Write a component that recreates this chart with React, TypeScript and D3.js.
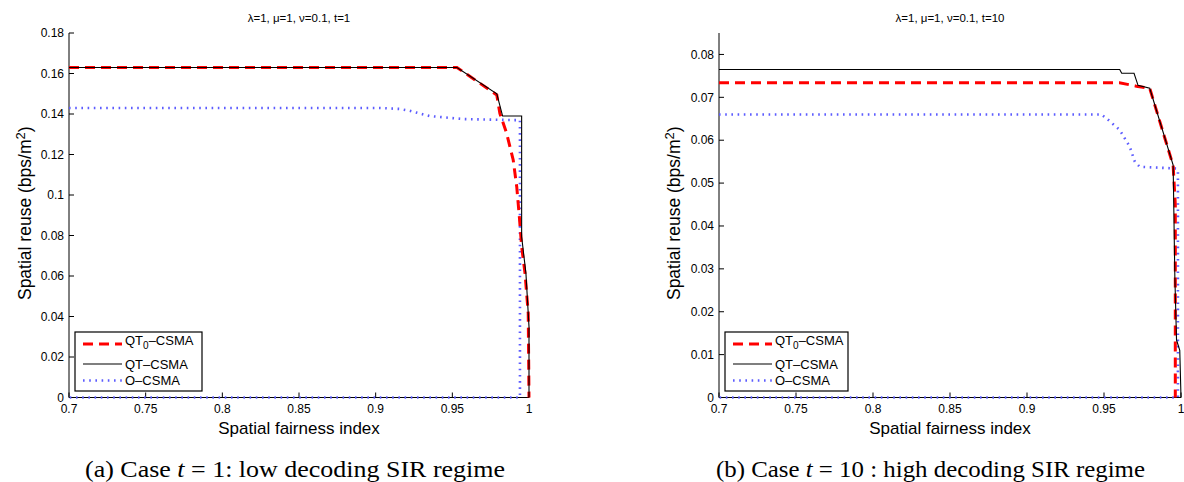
import React from "react";
import * as d3 from "d3";

// ---- data: panel (a) t = 1 ----
const fairQT0_t1 = [0.7, 0.953, 0.979, 0.981, 0.9854, 0.9897, 0.992, 0.9937, 0.9952, 0.9974, 0.9995, 1.0];
const reuseQT0_t1 = [0.163, 0.163, 0.1494, 0.1403, 0.1305, 0.1173, 0.1041, 0.0893, 0.0745, 0.0613, 0.0416, 0];
const fairQT_t1 = [0.7, 0.953, 0.979, 0.9828, 0.9952, 0.9952, 0.998, 1.0, 1.0];
const reuseQT_t1 = [0.163, 0.163, 0.15, 0.139, 0.139, 0.0794, 0.0613, 0.035, 0];
const fairO_t1 = [0.7, 0.9026, 0.9157, 0.9222, 0.935, 0.957, 0.9897, 0.9941, 0.9941, 0.7];
const reuseO_t1 = [0.143, 0.143, 0.1425, 0.1416, 0.139, 0.1375, 0.137, 0.137, 0, 0];

// ---- data: panel (b) t = 10 ----
const fairQT0_t10 = [0.7, 0.96, 0.971, 0.9797, 0.9949, 0.9963, 0.9963];
const reuseQT0_t10 = [0.0734, 0.0734, 0.0726, 0.0721, 0.0541, 0.045, 0];
const fairQT_t10 = [0.7, 0.9602, 0.9615, 0.9695, 0.9721, 0.9797, 0.9949, 0.996, 0.9971, 0.9992, 1.0];
const reuseQT_t10 = [0.0765, 0.0765, 0.0756, 0.0756, 0.0728, 0.0721, 0.0542, 0.0282, 0.0134, 0.011, 0];
const fairO_t10 = [0.7, 0.9483, 0.9516, 0.9602, 0.9667, 0.97, 0.9732, 0.997, 0.998, 0.998, 0.7];
const reuseO_t10 = [0.066, 0.066, 0.0651, 0.0624, 0.0585, 0.055, 0.0538, 0.0534, 0.053, 0, 0];

// ---- ticks / labels ----
const xTicks = [0.7, 0.75, 0.8, 0.85, 0.9, 0.95, 1];
const yTicks_t1 = [0, 0.02, 0.04, 0.06, 0.08, 0.1, 0.12, 0.14, 0.16, 0.18];
const yTicks_t10 = [0, 0.01, 0.02, 0.03, 0.04, 0.05, 0.06, 0.07, 0.08];
const titles = ["λ=1, μ=1, ν=0.1, t=1", "λ=1, μ=1, ν=0.1, t=10"];
const xLabel = "Spatial fairness index";

const SANS = "'Liberation Sans', Arial, Helvetica, sans-serif";
const SERIF = "'Liberation Serif', 'Times New Roman', serif";
const BLUE = "#5c5cff";

const zip = (xs: number[], ys: number[]) => xs.map((x, i) => [x, ys[i]] as [number, number]);
const fmt = (v: number) => (v === 0 ? "0" : String(+v.toFixed(3)));

type PanelProps = {
  x0: number; x1: number; yTop: number; yBot: number; yMax: number;
  yTicks: number[]; title: string; ylabX: number;
  qt0: [number, number][]; qt: [number, number][]; o: [number, number][];
  legend: { x: number; y: number; w: number; h: number };
};

function Panel(p: PanelProps) {
  const x = d3.scaleLinear().domain([0.7, 1]).range([p.x0, p.x1]);
  const y = d3.scaleLinear().domain([0, p.yMax]).range([p.yBot, p.yTop]);
  const line = d3.line<[number, number]>().x((d) => x(d[0])).y((d) => y(d[1]));
  const tl = 5;
  const L = p.legend;
  const lx0 = L.x + 8, lx1 = L.x + 47, tx = L.x + 50;
  return (
    <g>
      <text x={(p.x0 + p.x1) / 2} y={21.5} textAnchor="middle" fontFamily={SANS} fontSize={11.5}>{p.title}</text>
      {/* axes */}
      <line x1={p.x0} x2={p.x0} y1={y(p.yMax)} y2={p.yBot} stroke="#000" strokeWidth={1} />
      <line x1={p.x0} x2={p.x1} y1={p.yBot} y2={p.yBot} stroke="#000" strokeWidth={1} />
      {xTicks.map((t) => (
        <g key={"x" + t}>
          <line x1={x(t)} x2={x(t)} y1={p.yBot} y2={p.yBot - tl} stroke="#000" />
          <text x={x(t)} y={413} textAnchor="middle" fontFamily={SANS} fontSize={12}>{fmt(t)}</text>
        </g>
      ))}
      {p.yTicks.map((t) => (
        <g key={"y" + t}>
          <line x1={p.x0} x2={p.x0 + tl} y1={y(t)} y2={y(t)} stroke="#000" />
          <text x={p.x0 - 5} y={y(t) + 4.2} textAnchor="end" fontFamily={SANS} fontSize={12}>{fmt(t)}</text>
        </g>
      ))}
      <text x={(p.x0 + p.x1) / 2} y={433.5} textAnchor="middle" fontFamily={SANS} fontSize={17}>{xLabel}</text>
      <text transform={`translate(${p.ylabX},${(p.yTop + p.yBot) / 2 - 2}) rotate(-90)`} textAnchor="middle" fontFamily={SANS} fontSize={17.5}>
        Spatial reuse (bps/m<tspan dy={-6} fontSize={13}>2</tspan><tspan dy={6}>)</tspan>
      </text>
      {/* series */}
      <path d={line(p.o) || ""} fill="none" stroke={BLUE} strokeWidth={2.6} strokeDasharray="1.6,4.6" />
      <path d={line(p.qt0) || ""} fill="none" stroke="#ff0000" strokeWidth={3} strokeDasharray="10,6" />
      <path d={line(p.qt) || ""} fill="none" stroke="#000" strokeWidth={1.1} />
      {/* legend */}
      <rect x={L.x} y={L.y} width={L.w} height={L.h} fill="#fff" stroke="#000" strokeWidth={1.2} />
      <line x1={lx0} x2={lx1} y1={L.y + 12} y2={L.y + 12} stroke="#ff0000" strokeWidth={3} strokeDasharray="10,6" />
      <text x={tx} y={L.y + 13} fontFamily={SANS} fontSize={13}>
        QT<tspan dy={4} fontSize={10}>0</tspan><tspan dy={-4}>–CSMA</tspan>
      </text>
      <line x1={lx0} x2={lx1} y1={L.y + 32} y2={L.y + 32} stroke="#000" strokeWidth={1.1} />
      <text x={tx} y={L.y + 36.5} fontFamily={SANS} fontSize={13}>QT–CSMA</text>
      <line x1={lx0} x2={lx1} y1={L.y + 48.5} y2={L.y + 48.5} stroke={BLUE} strokeWidth={2.6} strokeDasharray="1.6,4.6" />
      <text x={tx} y={L.y + 53} fontFamily={SANS} fontSize={13}>O–CSMA</text>
    </g>
  );
}

export default function App() {
  return (
    <svg width={1184} height={482} style={{ position: "absolute", left: 0, top: 0, background: "#fff" }}>
      <rect width={1184} height={482} fill="#fff" />
      <Panel x0={69} x1={529} yTop={33} yBot={397.5} yMax={0.18} yTicks={yTicks_t1} title={titles[0]} ylabX={31}
        qt0={zip(fairQT0_t1, reuseQT0_t1)} qt={zip(fairQT_t1, reuseQT_t1)} o={zip(fairO_t1, reuseO_t1)}
        legend={{ x: 75, y: 332, w: 127, h: 59 }} />
      <Panel x0={719} x1={1181} yTop={33} yBot={397.5} yMax={0.085} yTicks={yTicks_t10} title={titles[1]} ylabX={680}
        qt0={zip(fairQT0_t10, reuseQT0_t10)} qt={zip(fairQT_t10, reuseQT_t10)} o={zip(fairO_t10, reuseO_t10)}
        legend={{ x: 725, y: 332, w: 123, h: 59 }} />
      <text x={85} y={476.5} fontFamily={SERIF} fontSize={23} textLength={420} lengthAdjust="spacingAndGlyphs">
        (a) Case <tspan fontStyle="italic">t</tspan> = 1: low decoding SIR regime
      </text>
      <text x={716} y={476.5} fontFamily={SERIF} fontSize={23} textLength={429} lengthAdjust="spacingAndGlyphs">
        (b) Case <tspan fontStyle="italic">t</tspan> = 10 : high decoding SIR regime
      </text>
    </svg>
  );
}
